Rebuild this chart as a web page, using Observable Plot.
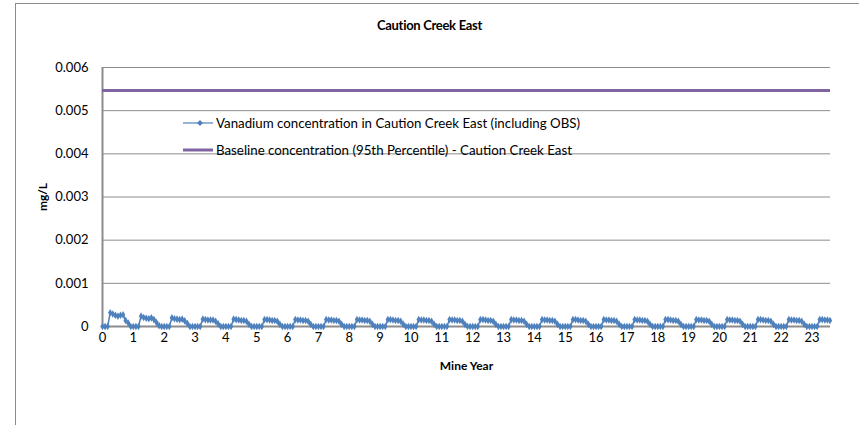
<!DOCTYPE html>
<html><head><meta charset="utf-8">
<script src="https://cdn.jsdelivr.net/npm/d3@7"></script>
<script src="https://cdn.jsdelivr.net/npm/@observablehq/plot@0.6"></script>
<style>
html,body{margin:0;padding:0;background:#fff;overflow:hidden;width:859px;height:425px;}
#wrap{position:relative;width:859px;height:425px;font-family:Lato,"Open Sans",sans-serif;}
#frame{position:absolute;left:15px;top:3px;width:900px;height:500px;border-left:1px solid #8c8c8c;border-top:1px solid #8c8c8c;}
#title{position:absolute;left:0;width:859px;top:17px;text-align:center;font-weight:bold;font-size:13px;color:#000;letter-spacing:-0.3px;}
#chart{position:absolute;left:0;top:0;}
.leg{position:absolute;left:183px;font-size:13.3px;color:#000;white-space:nowrap;display:flex;align-items:center;}
.leg svg{margin-right:3px;}
</style></head>
<body><div id="wrap"><div id="frame"></div><div id="chart"></div><div id="title"></div>
<div class="leg" id="leg1" style="top:115px"></div>
<div class="leg" id="leg2" style="top:142px"></div></div>
<script>
const title = "Caution Creek East";
const seriesName = "Vanadium concentration in Caution Creek East (including OBS)";
const baselineName = "Baseline  concentration (95th Percentile) - Caution Creek East";
const xLabel = "Mine Year";
const yLabel = "mg/L";
const xTicks = d3.range(0, 24);
const yTicks = [0, 0.001, 0.002, 0.003, 0.004, 0.005, 0.006];
const baseline = 0.00547;
// monthly values (12 per mine year), mg/L
const vanadium = [
  0,0,0,0.00032,0.00029,0.00026,0.00024,0.00026,0.00027,0.00014,0.00008,0,
  0,0,0,0.00024,0.00021,0.00019,0.00018,0.00020,0.00016,0.00009,0.00002,0,
  0,0,0,0.00020,0.00018,0.00017,0.00016,0.00017,0.00013,0.00007,0,0,
  0,0,0,0.00017,0.00016,0.00015,0.00015,0.00015,0.00012,0.00006,0,0,
  0,0,0,0.00017,0.00016,0.00015,0.00014,0.00014,0.00012,0.00005,0,0,
  0,0,0,0.00016,0.00016,0.00015,0.00014,0.00014,0.00012,0.00005,0,0,
  0,0,0,0.00016,0.00015,0.00015,0.00014,0.00014,0.00012,0.00005,0,0,
  0,0,0,0.00016,0.00015,0.00015,0.00014,0.00014,0.00012,0.00005,0,0,
  0,0,0,0.00016,0.00015,0.00015,0.00014,0.00014,0.00012,0.00005,0,0,
  0,0,0,0.00016,0.00016,0.00015,0.00014,0.00014,0.00012,0.00005,0,0,
  0,0,0,0.00016,0.00015,0.00015,0.00014,0.00014,0.00012,0.00005,0,0,
  0,0,0,0.00016,0.00015,0.00015,0.00014,0.00014,0.00012,0.00005,0,0,
  0,0,0,0.00016,0.00016,0.00015,0.00014,0.00014,0.00012,0.00005,0,0,
  0,0,0,0.00016,0.00015,0.00015,0.00014,0.00014,0.00012,0.00005,0,0,
  0,0,0,0.00016,0.00015,0.00015,0.00014,0.00014,0.00012,0.00005,0,0,
  0,0,0,0.00016,0.00016,0.00015,0.00014,0.00014,0.00012,0.00005,0,0,
  0,0,0,0.00016,0.00015,0.00015,0.00014,0.00014,0.00012,0.00005,0,0,
  0,0,0,0.00016,0.00015,0.00015,0.00014,0.00014,0.00012,0.00005,0,0,
  0,0,0,0.00016,0.00016,0.00015,0.00014,0.00014,0.00012,0.00005,0,0,
  0,0,0,0.00016,0.00015,0.00015,0.00014,0.00014,0.00012,0.00005,0,0,
  0,0,0,0.00016,0.00015,0.00015,0.00014,0.00014,0.00012,0.00005,0,0,
  0,0,0,0.00016,0.00016,0.00015,0.00014,0.00014,0.00012,0.00005,0,0,
  0,0,0,0.00016,0.00015,0.00015,0.00014,0.00014,0.00012,0.00005,0,0,
  0,0,0,0.00016,0.00016,0.00015,0.00015,0.00014
];
const blue = "#4f81bd", purple = "#8064a2", gray = "#8c8c8c";
const data = vanadium.map((v, i) => ({year: i / 12, v}));

document.getElementById("title").textContent = title;

const chart = Plot.plot({
  width: 859, height: 425,
  marginLeft: 102, marginRight: 29, marginTop: 67, marginBottom: 99,
  style: {fontFamily: "Lato, 'Open Sans', sans-serif", fontSize: "13px", color: "#000", background: "transparent", overflow: "visible"},
  x: {domain: [0, 23.6], ticks: xTicks, tickFormat: d => d, tickSize: 0, tickPadding: 6, label: xLabel, labelAnchor: "center", labelOffset: 43, labelArrow: "none"},
  y: {domain: [0, 0.006], ticks: yTicks, tickFormat: d => d === 0 ? "0" : d.toFixed(3), tickSize: 0, tickPadding: 14, label: yLabel, labelAnchor: "center", labelOffset: 64, labelArrow: "none"},
  marks: [
    Plot.gridY(yTicks, {stroke: gray, strokeOpacity: 1, strokeWidth: 1}),
    Plot.ruleX([0], {stroke: gray, strokeWidth: 2}),
    Plot.ruleY([0], {stroke: gray, strokeWidth: 2}),
    Plot.ruleY([baseline], {stroke: purple, strokeWidth: 3}),
    Plot.line(data, {x: "year", y: "v", stroke: blue, strokeWidth: 1.5}),
    Plot.dot(data, {x: "year", y: "v", symbol: "diamond", fill: blue, r: 2.3, stroke: "none"})
  ]
});
chart.querySelectorAll("[aria-label='x-axis label'] text, [aria-label='y-axis label'] text").forEach(t => { t.style.fontWeight = "bold"; t.style.fontSize = "12px"; });
document.getElementById("chart").appendChild(chart);

const leg1 = document.getElementById("leg1");
leg1.innerHTML = `<svg width="30" height="10"><line x1="0" y1="5" x2="30" y2="5" stroke="${blue}" stroke-width="1.2"/><path d="M17,2 L20,5 L17,8 L14,5 Z" fill="${blue}"/></svg>`;
leg1.appendChild(document.createTextNode(seriesName));
const leg2 = document.getElementById("leg2");
leg2.innerHTML = `<svg width="30" height="10"><line x1="0" y1="5" x2="30" y2="5" stroke="${purple}" stroke-width="3"/></svg>`;
leg2.appendChild(document.createTextNode(baselineName));
</script></body></html>
